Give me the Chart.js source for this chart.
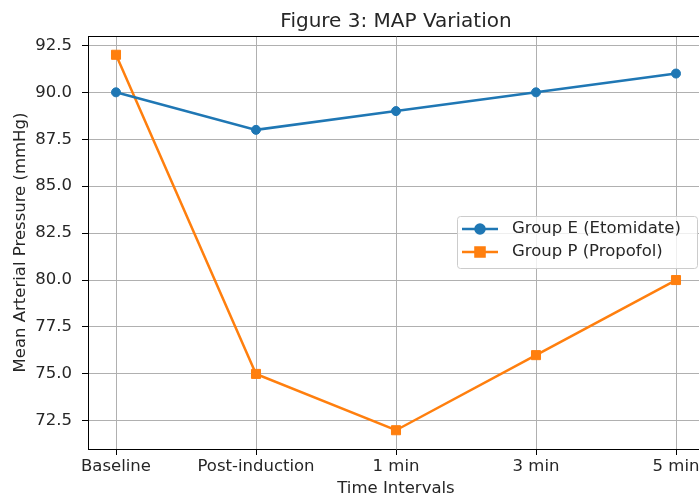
<!DOCTYPE html>
<html>
<head>
<meta charset="utf-8">
<script src="https://cdn.jsdelivr.net/npm/chart.js@4/dist/chart.umd.min.js"></script>
<style>
  html, body { margin: 0; padding: 0; background: #fff; overflow: hidden; }
  #wrap { width: 730px; height: 495px; }
</style>
</head>
<body>
<div id="wrap"><canvas id="mapChart" width="730" height="495"></canvas></div>
<script>
// Data
const categories = ['Baseline', 'Post-induction', '1 min', '3 min', '5 min'];
const groupE = [90, 88, 89, 90, 91];
const groupP = [92, 75, 72, 76, 80];
const yTicks = [72.5, 75, 77.5, 80, 82.5, 85, 87.5, 90, 92.5];

const FONT = "'DejaVu Sans', sans-serif";
const BLUE = '#1f77b4';
const ORANGE = '#ff7f0e';
const TITLE = 'Figure 3: MAP Variation';

function toPoints(values) {
  return values.map((v, i) => ({ x: i, y: v }));
}

// Top/right spines + title centred over the plot area (like matplotlib)
const boxPlugin = {
  id: 'box',
  afterDatasetsDraw(chart) {
    const { ctx, chartArea: a } = chart;
    ctx.save();
    ctx.strokeStyle = '#000';
    ctx.lineWidth = 1;
    ctx.beginPath();
    ctx.moveTo(Math.round(a.left) + 0.5, Math.round(a.top) + 0.5);
    ctx.lineTo(Math.round(a.right) + 0.5, Math.round(a.top) + 0.5);
    ctx.lineTo(Math.round(a.right) + 0.5, Math.round(a.bottom) + 0.5);
    ctx.stroke();

    ctx.fillStyle = '#262626';
    ctx.font = '20px ' + FONT;
    ctx.textAlign = 'center';
    ctx.textBaseline = 'alphabetic';
    ctx.fillText(TITLE, (a.left + a.right) / 2, 26.5);
    ctx.restore();
  }
};

// Legend box inside the plot, to the right
const legendPlugin = {
  id: 'innerLegend',
  afterDraw(chart) {
    const ctx = chart.ctx;
    const x0 = 457, y0 = 216, w = 240, h = 52;
    ctx.save();
    ctx.beginPath();
    ctx.roundRect(x0 + 0.5, y0 + 0.5, w, h, 3);
    ctx.fillStyle = 'rgba(255,255,255,0.8)';
    ctx.fill();
    ctx.strokeStyle = '#cccccc';
    ctx.lineWidth = 1;
    ctx.stroke();

    chart.data.datasets.forEach((ds, i) => {
      const cy = 229 + i * 23;
      ctx.strokeStyle = ds.borderColor;
      ctx.lineWidth = ds.borderWidth;
      ctx.beginPath();
      ctx.moveTo(462, cy);
      ctx.lineTo(498, cy);
      ctx.stroke();
      Chart.helpers.drawPoint(ctx, {
        pointStyle: ds.pointStyle,
        radius: ds.pointRadius,
        borderWidth: ds.pointBorderWidth
      }, 480, cy);
      ctx.fillStyle = ds.borderColor;
      ctx.fill();
      ctx.strokeStyle = ds.borderColor;
      ctx.lineWidth = ds.pointBorderWidth;
      ctx.stroke();

      ctx.fillStyle = '#262626';
      ctx.font = '16.5px ' + FONT;
      ctx.textBaseline = 'middle';
      ctx.textAlign = 'left';
      ctx.fillText(ds.label, 512, cy);
    });
    ctx.restore();
  }
};

new Chart(document.getElementById('mapChart'), {
  type: 'line',
  data: {
    datasets: [
      {
        label: 'Group E (Etomidate)',
        data: toPoints(groupE),
        borderColor: BLUE,
        backgroundColor: BLUE,
        borderWidth: 2.5,
        pointStyle: 'circle',
        pointRadius: 4.5,
        pointBorderWidth: 1,
        pointBackgroundColor: BLUE,
        pointBorderColor: BLUE,
        tension: 0
      },
      {
        label: 'Group P (Propofol)',
        data: toPoints(groupP),
        borderColor: ORANGE,
        backgroundColor: ORANGE,
        borderWidth: 2.5,
        pointStyle: 'rect',
        pointRadius: 6.4,
        pointBorderWidth: 1,
        pointBackgroundColor: ORANGE,
        pointBorderColor: ORANGE,
        tension: 0
      }
    ]
  },
  options: {
    responsive: false,
    animation: false,
    layout: { padding: { left: 0, right: 26, top: 36, bottom: 0 } },
    plugins: {
      legend: { display: false },
      tooltip: { enabled: false },
      title: { display: false }
    },
    scales: {
      x: {
        type: 'linear',
        min: -0.2,
        max: 4.2,
        afterBuildTicks(scale) {
          scale.ticks = categories.map((c, i) => ({ value: i }));
        },
        afterFit(scale) { scale.height = 46; },
        grid: { color: '#b0b0b0', lineWidth: 1, tickColor: '#000', tickLength: 6 },
        border: { color: '#000', width: 1 },
        ticks: {
          color: '#262626',
          font: { family: FONT, size: 16.5 },
          padding: 2,
          maxRotation: 0,
          autoSkip: false,
          callback: (v) => categories[v]
        },
        title: {
          display: true,
          text: 'Time Intervals',
          color: '#262626',
          font: { family: FONT, size: 16.5 },
          padding: { top: 0, bottom: -4 }
        }
      },
      y: {
        min: 71,
        max: 93,
        afterBuildTicks(scale) {
          scale.ticks = yTicks.map(v => ({ value: v }));
        },
        afterFit(scale) { scale.width = 88; },
        grid: { color: '#b0b0b0', lineWidth: 1, tickColor: '#000', tickLength: 6 },
        border: { color: '#000', width: 1 },
        ticks: {
          color: '#262626',
          font: { family: FONT, size: 16.5 },
          padding: 10,
          callback: (v) => v.toFixed(1)
        },
        title: {
          display: true,
          text: 'Mean Arterial Pressure (mmHg)',
          color: '#262626',
          font: { family: FONT, size: 16.5 },
          padding: { top: 11, bottom: 0 }
        }
      }
    }
  },
  plugins: [boxPlugin, legendPlugin]
});
</script>
</body>
</html>
